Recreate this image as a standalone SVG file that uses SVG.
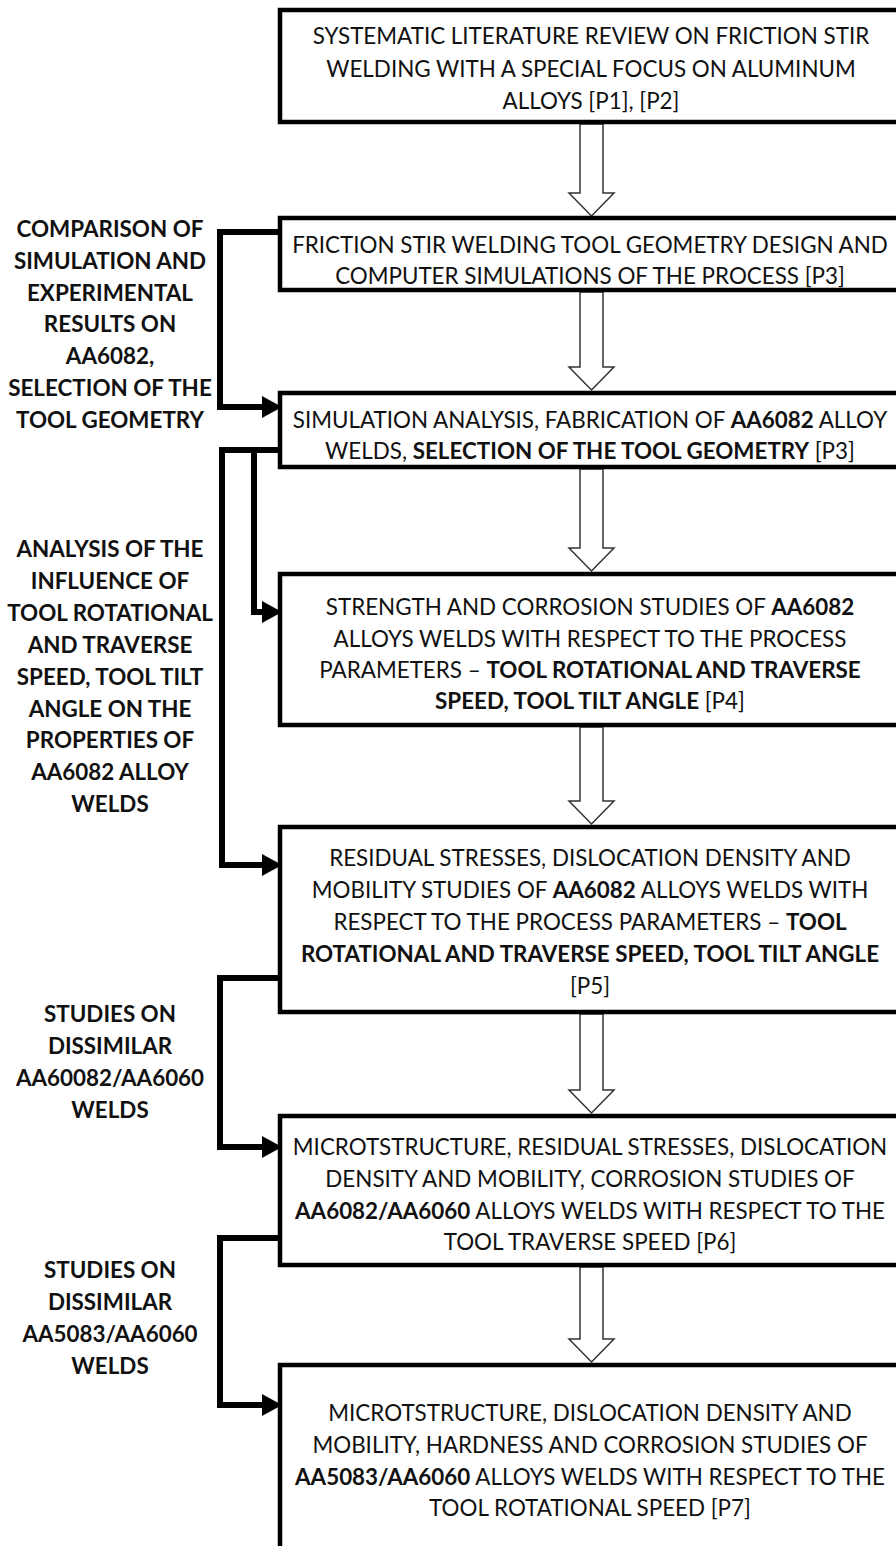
<svg xmlns="http://www.w3.org/2000/svg" width="896" height="1546" viewBox="0 0 896 1546">
<style>
.box{fill:#fff;stroke:#000;stroke-width:4.5}
.t{font-family:Lato,"Open Sans","Liberation Sans",sans-serif;font-size:22.4px;fill:#111;text-anchor:middle}
.lbl{font-family:Lato,"Open Sans","Liberation Sans",sans-serif;font-size:22.4px;font-weight:bold;fill:#111;text-anchor:middle}
.b{font-weight:bold}
.flow{fill:#fff;stroke:#333;stroke-width:1.5}
.conn{fill:none;stroke:#000;stroke-width:6;stroke-linejoin:miter}
.head{fill:#000}
</style>
<rect width="896" height="1546" fill="#fff"/>

<g id="flow-arrows">
<path class="flow" d="M580,124 V193 H569 L591.5,216 L614,193 H603 V124 Z"/>
<path class="flow" d="M580,292 V367 H569 L591.5,390 L614,367 H603 V292 Z"/>
<path class="flow" d="M580,469 V548 H569 L591.5,571 L614,548 H603 V469 Z"/>
<path class="flow" d="M580,727 V801 H569 L591.5,824 L614,801 H603 V727 Z"/>
<path class="flow" d="M580,1014 V1090 H569 L591.5,1113 L614,1090 H603 V1014 Z"/>
<path class="flow" d="M580,1267 V1339 H569 L591.5,1362 L614,1339 H603 V1267 Z"/>
</g>

<g id="node1">
<rect class="box" x="280" y="10" width="640" height="112"/>
<text class="t" x="591" y="44">SYSTEMATIC LITERATURE REVIEW ON FRICTION STIR</text>
<text class="t" x="591" y="77">WELDING WITH A SPECIAL FOCUS ON ALUMINUM</text>
<text class="t" x="591" y="109">ALLOYS [P1], [P2]</text>
</g>

<g id="node2">
<rect class="box" x="280" y="218" width="640" height="72"/>
<text class="t" x="590" y="253">FRICTION STIR WELDING TOOL GEOMETRY DESIGN AND</text>
<text class="t" x="590" y="284">COMPUTER SIMULATIONS OF THE PROCESS [P3]</text>
</g>

<g id="node3">
<rect class="box" x="280" y="393" width="640" height="74"/>
<text class="t" x="590" y="428">SIMULATION ANALYSIS, FABRICATION OF <tspan class="b">AA6082</tspan> ALLOY</text>
<text class="t" x="590" y="459">WELDS, <tspan class="b">SELECTION OF THE TOOL GEOMETRY</tspan> [P3]</text>
</g>

<g id="node4">
<rect class="box" x="280" y="574" width="640" height="151"/>
<text class="t" x="590" y="615">STRENGTH AND CORROSION STUDIES OF <tspan class="b">AA6082</tspan></text>
<text class="t" x="590" y="647">ALLOYS WELDS WITH RESPECT TO THE PROCESS</text>
<text class="t" x="590" y="678">PARAMETERS – <tspan class="b">TOOL ROTATIONAL AND TRAVERSE</tspan></text>
<text class="t" x="590" y="709"><tspan class="b">SPEED, TOOL TILT ANGLE</tspan> [P4]</text>
</g>

<g id="node5">
<rect class="box" x="280" y="827" width="640" height="185"/>
<text class="t" x="590" y="866">RESIDUAL STRESSES, DISLOCATION DENSITY AND</text>
<text class="t" x="590" y="898">MOBILITY STUDIES OF <tspan class="b">AA6082</tspan> ALLOYS WELDS WITH</text>
<text class="t" x="590" y="930">RESPECT TO THE PROCESS PARAMETERS – <tspan class="b">TOOL</tspan></text>
<text class="t" x="590" y="962"><tspan class="b">ROTATIONAL AND TRAVERSE SPEED, TOOL TILT ANGLE</tspan></text>
<text class="t" x="590" y="994">[P5]</text>
</g>

<g id="node6">
<rect class="box" x="280" y="1116" width="640" height="149"/>
<text class="t" x="590" y="1155">MICROTSTRUCTURE, RESIDUAL STRESSES, DISLOCATION</text>
<text class="t" x="590" y="1187">DENSITY AND MOBILITY, CORROSION STUDIES OF</text>
<text class="t" x="590" y="1219"><tspan class="b">AA6082/AA6060</tspan> ALLOYS WELDS WITH RESPECT TO THE</text>
<text class="t" x="590" y="1250">TOOL TRAVERSE SPEED [P6]</text>
</g>

<g id="node7">
<rect class="box" x="280" y="1365" width="640" height="220"/>
<text class="t" x="590" y="1421">MICROTSTRUCTURE, DISLOCATION DENSITY AND</text>
<text class="t" x="590" y="1453">MOBILITY, HARDNESS AND CORROSION STUDIES OF</text>
<text class="t" x="590" y="1485"><tspan class="b">AA5083/AA6060</tspan> ALLOYS WELDS WITH RESPECT TO THE</text>
<text class="t" x="590" y="1516">TOOL ROTATIONAL SPEED [P7]</text>
</g>

<g id="connectors">
<path class="conn" d="M280,232 H220 V407 H264"/>
<polygon class="head" points="262,396 282,407 262,418"/>
<path class="conn" d="M280,450 H222 V865 H264"/>
<path class="conn" d="M254,450 V612 H264"/>
<polygon class="head" points="262,601 282,612 262,623"/>
<polygon class="head" points="262,854 282,865 262,876"/>
<path class="conn" d="M280,978 H220 V1147 H264"/>
<polygon class="head" points="262,1136 282,1147 262,1158"/>
<path class="conn" d="M280,1238 H220 V1405 H264"/>
<polygon class="head" points="262,1394 282,1405 262,1416"/>
</g>

<g id="label1">
<text class="lbl" x="110" y="237">COMPARISON OF</text>
<text class="lbl" x="110" y="269">SIMULATION AND</text>
<text class="lbl" x="110" y="301">EXPERIMENTAL</text>
<text class="lbl" x="110" y="332">RESULTS ON</text>
<text class="lbl" x="110" y="364">AA6082,</text>
<text class="lbl" x="110" y="396">SELECTION OF THE</text>
<text class="lbl" x="110" y="428">TOOL GEOMETRY</text>
</g>

<g id="label2">
<text class="lbl" x="110" y="557">ANALYSIS OF THE</text>
<text class="lbl" x="110" y="589">INFLUENCE OF</text>
<text class="lbl" x="110" y="621">TOOL ROTATIONAL</text>
<text class="lbl" x="110" y="653">AND TRAVERSE</text>
<text class="lbl" x="110" y="685">SPEED, TOOL TILT</text>
<text class="lbl" x="110" y="717">ANGLE ON THE</text>
<text class="lbl" x="110" y="748">PROPERTIES OF</text>
<text class="lbl" x="110" y="780">AA6082 ALLOY</text>
<text class="lbl" x="110" y="812">WELDS</text>
</g>

<g id="label3">
<text class="lbl" x="110" y="1022">STUDIES ON</text>
<text class="lbl" x="110" y="1054">DISSIMILAR</text>
<text class="lbl" x="110" y="1086">AA60082/AA6060</text>
<text class="lbl" x="110" y="1118">WELDS</text>
</g>

<g id="label4">
<text class="lbl" x="110" y="1278">STUDIES ON</text>
<text class="lbl" x="110" y="1310">DISSIMILAR</text>
<text class="lbl" x="110" y="1342">AA5083/AA6060</text>
<text class="lbl" x="110" y="1374">WELDS</text>
</g>
</svg>
